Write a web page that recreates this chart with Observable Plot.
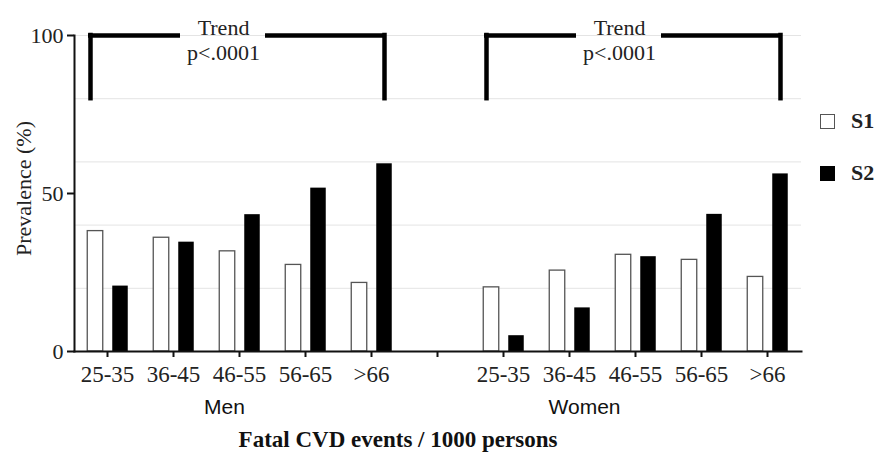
<!DOCTYPE html>
<html><head><meta charset="utf-8">
<script src="https://cdn.jsdelivr.net/npm/d3@7"></script>
<script src="https://cdn.jsdelivr.net/npm/@observablehq/plot@0.6"></script>
<style>
body{margin:0;background:#fff;}
#wrap{position:relative;width:882px;height:462px;overflow:hidden;}
.leg{position:absolute;left:820px;height:20px;display:flex;align-items:center;font:bold 22px "Liberation Serif",serif;color:#222;}
.sw{width:15px;height:15px;box-sizing:border-box;margin-right:16px;}
</style></head><body>
<div id="wrap"></div>
<script>
// ---- data ----
const groups = ["Men", "Women"];
const ageGroups = ["25-35", "36-45", "46-55", "56-65", ">66"];
const seriesNames = ["S1", "S2"];
const menS1 = [38.1, 36.0, 31.7, 27.4, 21.7];
const menS2 = [20.7, 34.6, 43.3, 51.7, 59.4];
const womenS1 = [20.3, 25.6, 30.6, 29.0, 23.6];
const womenS2 = [5.0, 13.8, 30.0, 43.4, 56.2];
const yTicks = [0, 50, 100];
const gridTicks = [20, 40, 60, 80, 100];
const trendLabel = "Trend\np<.0001";
const bracketRange = [80, 100];
const xTitle = "Fatal CVD events / 1000 persons";
const yTitle = "Prevalence (%)";

// ---- tables built from the arrays ----
const key = (g, a) => g + "|" + a;
const domain = [...ageGroups.map(a => key("Men", a)), "gap", ...ageGroups.map(a => key("Women", a))];
const valuesBy = {Men: {S1: menS1, S2: menS2}, Women: {S1: womenS1, S2: womenS2}};
const rows = [];
for (const g of groups) for (const s of seriesNames) ageGroups.forEach((a, i) => rows.push({key: key(g, a), series: s, value: valuesBy[g][s][i]}));
const brackets = groups.map(g => ({
  group: g,
  first: key(g, ageGroups[0]),
  last: key(g, ageGroups[ageGroups.length - 1]),
  gapL: key(g, ageGroups[1]),
  gapR: key(g, ageGroups[2])
}));

const serif = '"Liberation Serif", "Times New Roman", serif';
const sans = '"Liberation Sans", Arial, sans-serif';
const bw = 4.5;

const chart = Plot.plot({
  width: 882, height: 462,
  marginLeft: 74, marginRight: 81, marginTop: 35, marginBottom: 111,
  style: {fontFamily: serif, fontSize: "22px", color: "#222", background: "#fff", overflow: "visible"},
  x: {type: "band", domain, range: [70.75, 802.25], padding: 0},
  y: {domain: [0, 100]},
  marks: [
    Plot.gridY(gridTicks, {stroke: "#e4e4e4", strokeOpacity: 1, strokeWidth: 1}),
    Plot.barY(rows.filter(d => d.series === "S1"), {x: "key", y: "value", fill: "#fff", stroke: "#555", strokeWidth: 1.3, insetLeft: 13.25, insetRight: 37.25}),
    Plot.barY(rows.filter(d => d.series === "S2"), {x: "key", y: "value", fill: "#000", insetLeft: 38.25, insetRight: 12.25}),
    Plot.frame({anchor: "left", stroke: "#111", strokeWidth: 2}),
    Plot.frame({anchor: "bottom", stroke: "#111", strokeWidth: 2}),
    Plot.axisY({ticks: yTicks, tickSize: 7, tickPadding: 4, strokeWidth: 2, stroke: "#111", label: null, fontSize: 22}),
    Plot.axisX({tickSize: 6, tickPadding: 8, strokeWidth: 2, stroke: "#111", label: null, fontSize: 23,
      tickFormat: d => d === "gap" ? "" : d.split("|")[1]}),
    // trend brackets
    Plot.ruleY(brackets, {x1: "first", x2: "gapL", y: bracketRange[1], insetLeft: 16.25, insetRight: 28.25, stroke: "#000", strokeWidth: bw, strokeLinecap: "square"}),
    Plot.ruleY(brackets, {x1: "gapR", x2: "last", y: bracketRange[1], insetLeft: 61.25, insetRight: 20.25, stroke: "#000", strokeWidth: bw, strokeLinecap: "square"}),
    Plot.ruleX(brackets, {x: "first", y1: bracketRange[0], y2: bracketRange[1], dx: -17, stroke: "#000", strokeWidth: bw, strokeLinecap: "square"}),
    Plot.ruleX(brackets, {x: "last", y1: bracketRange[0], y2: bracketRange[1], dx: 13, stroke: "#000", strokeWidth: bw, strokeLinecap: "square"}),
    Plot.text(brackets, {x: "gapR", y: bracketRange[1], text: () => trendLabel, dx: -16, dy: 4, lineAnchor: "middle", lineHeight: 1.14, fontSize: 22, fill: "#222"}),
    // group labels
    Plot.text(brackets.filter(d => d.group === "Men"), {x: "gapR", text: "group", frameAnchor: "bottom", dy: 62, dx: -15, fontFamily: sans, fontSize: 21, fill: "#111"}),
    Plot.text(brackets.filter(d => d.group === "Women"), {x: "gapL", text: "group", frameAnchor: "bottom", dy: 62, dx: 15, fontFamily: sans, fontSize: 21, fill: "#111"}),
    // axis titles
    Plot.text([xTitle], {frameAnchor: "bottom", dy: 95, dx: -40, fontWeight: "bold", fontSize: 23, fill: "#111"}),
    Plot.text([yTitle], {frameAnchor: "left", dx: -51, dy: -5, rotate: -90, textAnchor: "middle", fontSize: 22, fill: "#222"})
  ]
});

const wrap = document.getElementById("wrap");
wrap.appendChild(chart);
const legendItems = [
  {name: seriesNames[0], fill: "#fff", border: "1.3px solid #555", top: 111},
  {name: seriesNames[1], fill: "#000", border: "none", top: 163}
];
for (const it of legendItems) {
  const d = document.createElement("div");
  d.className = "leg";
  d.style.top = it.top + "px";
  const sw = document.createElement("div");
  sw.className = "sw";
  sw.style.background = it.fill;
  sw.style.border = it.border;
  d.appendChild(sw);
  d.appendChild(document.createTextNode(it.name));
  wrap.appendChild(d);
}
</script>
</body></html>
